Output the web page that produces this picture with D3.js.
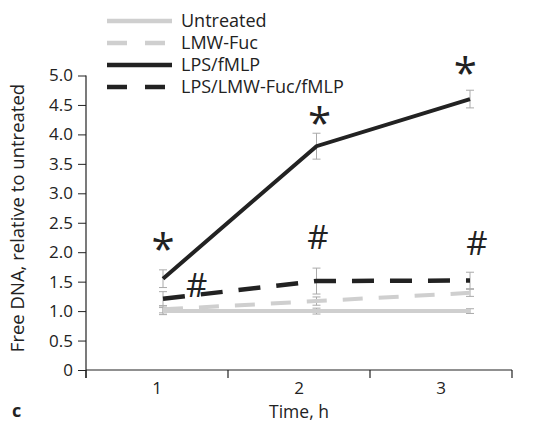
<!DOCTYPE html>
<html><head><meta charset="utf-8">
<script src="https://cdn.jsdelivr.net/npm/d3@7"></script>
<style>body{margin:0;background:#fff}text{font-family:"Open Sans","Noto Sans",sans-serif;fill:#222}</style>
</head><body><svg id="c" width="558" height="439"></svg>
<script>
const times = [1, 2, 3];
const timeLabels = ["1", "2", "3"];
const yTicks = [0, 0.5, 1.0, 1.5, 2.0, 2.5, 3.0, 3.5, 4.0, 4.5, 5.0];
const seriesNames = ["Untreated", "LMW-Fuc", "LPS/fMLP", "LPS/LMW-Fuc/fMLP"];
const untreated = [1.0, 1.0, 1.0];
const untreatedErr = [0.06, 0.05, 0.04];
const lmwFuc = [1.03, 1.17, 1.31];
const lmwFucErr = [0.06, 0.07, 0.06];
const lpsFmlp = [1.55, 3.8, 4.6];
const lpsFmlpErr = [0.15, 0.22, 0.15];
const lpsLmw = [1.21, 1.51, 1.52];
const lpsLmwErr = [0.12, 0.22, 0.14];
const starMarks = [[1, 2.16], [2.02, 4.30], [2.97, 5.14]];
const hashMarks = [[1.22, 1.44], [2.01, 2.26], [3.045, 2.16]];

const svg = d3.select("#c");
const y = d3.scaleLinear().domain([0, 5]).range([370, 75.5]);
const xBand = d3.scaleBand().domain(timeLabels).range([86, 512]);
const x = d3.scaleLinear().domain([1, 3]).range([163, 470]);

// y axis
const ya = svg.append("g").attr("transform", "translate(86,0)")
  .call(d3.axisLeft(y).tickValues(yTicks).tickSize(8).tickPadding(5)
    .tickFormat(d => d === 0 ? "0" : d3.format(".1f")(d)));
ya.select(".domain").attr("d", "M0,75.5V378").attr("stroke", "#222").attr("stroke-width", 1.2);
ya.selectAll(".tick line").attr("stroke", "#222");
ya.selectAll("text").style("font-size", "17px").attr("fill", "#222");

// x axis
const xa = svg.append("g").attr("transform", "translate(0,370)")
  .call(d3.axisBottom(xBand).tickSize(0).tickPadding(12));
xa.select(".domain").attr("d", "M86,0H512").attr("stroke", "#222").attr("stroke-width", 1.2);
xa.selectAll("text").style("font-size", "17px").attr("fill", "#222");
const bounds = [86].concat(timeLabels.map(t => xBand(t) + xBand.bandwidth()));
svg.append("g").selectAll("line").data(bounds).join("line")
  .attr("x1", d => d).attr("x2", d => d).attr("y1", 370).attr("y2", 378)
  .attr("stroke", "#222").attr("stroke-width", 1.2);

svg.append("text").attr("transform", "translate(24,218) rotate(-90)")
  .attr("text-anchor", "middle").style("font-size", "18.5px").text("Free DNA, relative to untreated");
svg.append("text").attr("x", 299).attr("y", 418).attr("text-anchor", "middle")
  .style("font-size", "17.5px").text("Time, h");
svg.append("text").attr("x", 12).attr("y", 417).style("font-size", "18px").style("font-weight", "bold").text("c");

const series = [
  {name: seriesNames[0], v: untreated, e: untreatedErr, color: "#cfcfcf", dash: null, w: 4},
  {name: seriesNames[1], v: lmwFuc, e: lmwFucErr, color: "#cfcfcf", dash: "20,16", w: 4},
  {name: seriesNames[2], v: lpsFmlp, e: lpsFmlpErr, color: "#222", dash: null, w: 4},
  {name: seriesNames[3], v: lpsLmw, e: lpsLmwErr, color: "#222", dash: "22,16", w: 4.5}
];

// error bars
series.forEach(s => {
  const g = svg.append("g").attr("stroke", "#aaa").attr("stroke-width", 1);
  times.forEach((t, i) => {
    const cx = x(t), top = y(s.v[i] + s.e[i]), bot = y(s.v[i] - s.e[i]);
    g.append("line").attr("x1", cx).attr("x2", cx).attr("y1", top).attr("y2", bot);
    g.append("line").attr("x1", cx - 4).attr("x2", cx + 4).attr("y1", top).attr("y2", top);
    g.append("line").attr("x1", cx - 4).attr("x2", cx + 4).attr("y1", bot).attr("y2", bot);
  });
});

const line = d3.line().x((d, i) => x(times[i])).y(d => y(d));
series.forEach(s => {
  svg.append("path").datum(s.v).attr("d", line).attr("fill", "none")
    .attr("stroke", s.color).attr("stroke-width", s.w)
    .attr("stroke-dasharray", s.dash);
});

// significance marks (values mark glyph centres)
svg.append("g").selectAll("text").data(starMarks).join("text")
  .attr("x", d => x(d[0])).attr("y", d => y(d[1]) + 21).attr("text-anchor", "middle")
  .style("font-size", "42px").text("*");
svg.append("g").selectAll("text").data(hashMarks).join("text")
  .attr("x", d => x(d[0])).attr("y", d => y(d[1]) + 12).attr("text-anchor", "middle")
  .style("font-size", "33px").text("#");

// legend
const lg = svg.append("g");
series.forEach((s, i) => {
  const ly = 21 + i * 22;
  lg.append("line").attr("x1", 107).attr("x2", 172).attr("y1", ly).attr("y2", ly)
    .attr("stroke", s.color).attr("stroke-width", 4.5)
    .attr("stroke-dasharray", s.dash ? "20,18" : null);
  lg.append("text").attr("x", 181).attr("y", ly + 6).style("font-size", "18px").text(s.name);
});
</script></body></html>
